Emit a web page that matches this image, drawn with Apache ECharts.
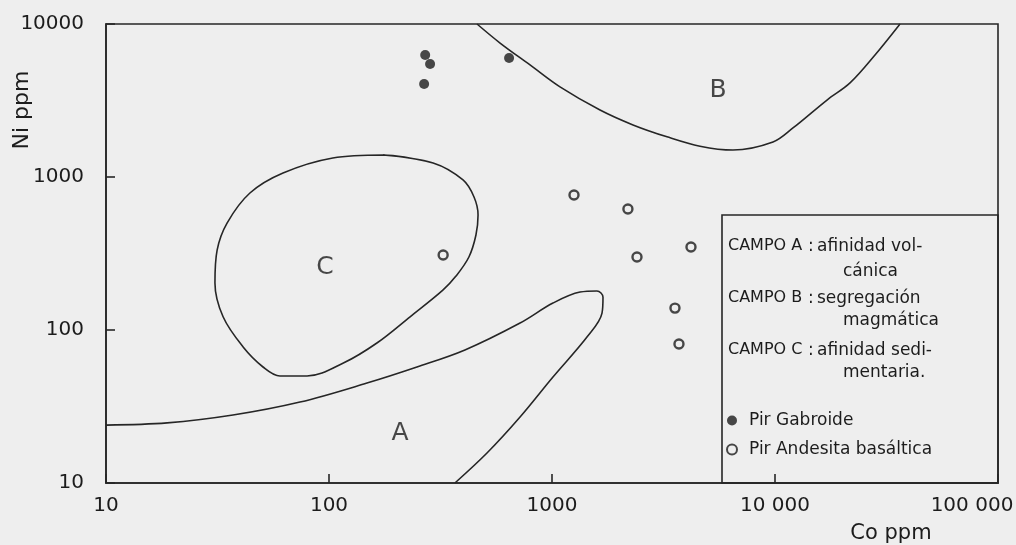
<!DOCTYPE html>
<html>
<head>
<meta charset="utf-8">
<script src="https://cdn.jsdelivr.net/npm/echarts@6/dist/echarts.min.js"></script>
<style>
html,body{margin:0;padding:0;background:#eeeeee;}
#chart{width:1016px;height:545px;}
</style>
</head>
<body>
<div id="chart"></div>
<script>
// ---- tick labels ----
const xTickValues = [10, 100, 1000, 10000, 100000];
const xTickLabels = ['10', '100', '1000', '10 000', '100 000'];
const yTickValues = [10, 100, 1000, 10000];
const yTickLabels = ['10', '100', '1000', '10000'];

// ---- sample points [Co ppm, Ni ppm] ----
const pirGabroide = [[270, 6270], [284, 5480], [267, 4050], [642, 6000]];
const pirAndesita = [[325, 309], [1255, 763], [2190, 618], [2405, 300], [4200, 349], [3560, 139], [3710, 81]];

// ---- field boundaries [Co ppm, Ni ppm] ----
const fieldA = [[10, 23.9], [18.8, 24.7], [37.1, 27.8], [74.1, 33.8], [148, 45], [248, 57.3], [407, 74],
  [719, 111], [1010, 150], [1336, 177], [1591, 180], [1693, 164], [1676, 129], [1435, 90],
  [1010, 49.3], [719, 27], [511, 15.7], [367, 10]];
const fieldB = [[461, 10000], [585, 7510], [797, 5400], [1086, 3880], [1642, 2740], [2308, 2190],
  [3279, 1830], [4609, 1590], [6480, 1500], [9795, 1693], [12036, 2091], [17110, 3186],
  [21700, 4120], [28080, 6270], [36360, 10000]];
const fieldC = [[175, 1392], [293, 1234], [399, 956], [447, 740], [466, 564], [456, 418], [424, 300],
  [371, 225], [324, 182], [231, 122], [164, 82.2], [116, 60.8], [79.7, 50], [60.3, 50], [50.6, 57.3],
  [41.2, 77.4], [33.5, 122], [30.8, 203], [31.5, 333], [34.9, 500], [44.2, 786], [62.2, 1062],
  [104, 1331], [175, 1392], [293, 1234]];

// ---- field labels ----
const fieldLabelNames = ['A', 'B', 'C'];
const fieldLabelAt = [[208, 21.2], [5550, 3700], [96, 258]];

// ---- legend texts ----
const fieldNames = ['CAMPO A', 'CAMPO B', 'CAMPO C'];
const fieldDesc = ['afinidad vol-', 'segregación', 'afinidad sedi-'];
const fieldDescCont = ['cánica', 'magmática', 'mentaria.'];
const seriesNames = ['Pir Gabroide', 'Pir Andesita basáltica'];
const axisNames = ['Co ppm', 'Ni ppm'];

const FONT = 'DejaVu Sans';
const INK = '#1c1c1c';
const LINE = '#262626';

function tickLabel(values, labels, v) {
  const e = Math.round(Math.log10(v));
  const i = values.findIndex(t => Math.round(Math.log10(t)) === e);
  return i >= 0 ? labels[i] : '';
}

const chart = echarts.init(document.getElementById('chart'), null, {renderer: 'canvas'});

const legendTexts = [];
const rowY = [[248, 273], [300, 322], [352, 374]];
for (let i = 0; i < 3; i++) {
  legendTexts.push({type: 'text', left: 728, top: rowY[i][0] - 10,
    style: {text: fieldNames[i], font: '16px ' + FONT, fill: INK}});
  legendTexts.push({type: 'text', left: 808, top: rowY[i][0] - 10,
    style: {text: ':', font: '17px ' + FONT, fill: INK}});
  legendTexts.push({type: 'text', left: 817, top: rowY[i][0] - 10,
    style: {text: fieldDesc[i], font: '17px ' + FONT, fill: INK}});
  legendTexts.push({type: 'text', left: 843, top: rowY[i][1] - 10,
    style: {text: fieldDescCont[i], font: '17px ' + FONT, fill: INK}});
}

const lineSeries = (name, data) => ({
  name: name, type: 'line', data: data, smooth: 0.35, symbol: 'none', silent: true,
  clip: true, lineStyle: {color: LINE, width: 1.6}, z: 2
});

const option = {
  backgroundColor: '#eeeeee',
  animation: false,
  grid: {left: 106, right: 18, top: 24, bottom: 62, show: true, borderColor: LINE, borderWidth: 1.6,
    containLabel: false, outerBoundsMode: 'none'},
  xAxis: {
    type: 'log', logBase: 10, min: 10, max: 100000,
    axisLine: {show: true, lineStyle: {color: LINE, width: 1.6}},
    axisTick: {show: true, inside: true, length: 9, lineStyle: {color: LINE, width: 1.6}},
    minorTick: {show: false}, splitLine: {show: false},
    axisLabel: {
      margin: 13, color: INK, fontSize: 20, fontFamily: FONT,
      formatter: v => {
        const s = tickLabel(xTickValues, xTickLabels, v);
        return Math.round(Math.log10(v)) === 5 ? '{r|' + s + '}' : s;
      },
      rich: {r: {fontSize: 20, fontFamily: FONT, color: INK, padding: [0, 52, 0, 0]}}
    }
  },
  yAxis: {
    type: 'log', logBase: 10, min: 10, max: 10000,
    axisLine: {show: true, lineStyle: {color: LINE, width: 1.6}},
    axisTick: {show: true, inside: true, length: 9, lineStyle: {color: LINE, width: 1.6}},
    minorTick: {show: false}, splitLine: {show: false},
    axisLabel: {
      margin: 22, color: INK, fontSize: 20, fontFamily: FONT,
      formatter: v => tickLabel(yTickValues, yTickLabels, v)
    }
  },
  legend: {
    data: seriesNames, orient: 'vertical', left: 726, top: 412, padding: 0,
    itemWidth: 10, itemHeight: 10, itemGap: 12, selectedMode: false,
    textStyle: {fontSize: 17, fontFamily: FONT, color: INK, padding: [0, 0, 0, 7]}
  },
  graphic: [
    {type: 'rect', shape: {x: 722, y: 215, width: 276, height: 268},
      style: {fill: 'none', stroke: LINE, lineWidth: 1.6}, z: 5},
    ...legendTexts,
    {type: 'text', x: 22, y: 110, rotation: Math.PI / 2,
      style: {text: axisNames[1], font: '22px ' + FONT, fill: INK, align: 'center', verticalAlign: 'middle'}},
    {type: 'text', x: 891, y: 534,
      style: {text: axisNames[0], font: '21px ' + FONT, fill: INK, align: 'center', verticalAlign: 'middle'}}
  ],
  series: [
    lineSeries('fieldA', fieldA),
    lineSeries('fieldB', fieldB),
    lineSeries('fieldC', fieldC),
    {
      name: 'labels', type: 'scatter', symbolSize: 0, silent: true,
      data: fieldLabelNames.map((n, i) => ({name: n, value: fieldLabelAt[i]})),
      label: {show: true, position: 'inside', formatter: '{b}', fontSize: 25, fontFamily: FONT, color: INK}
    },
    {
      name: seriesNames[0], type: 'scatter', data: pirGabroide, symbol: 'circle', symbolSize: 10,
      itemStyle: {color: '#1c1c1c'}, z: 4
    },
    {
      name: seriesNames[1], type: 'scatter', data: pirAndesita, symbol: 'circle', symbolSize: 9,
      itemStyle: {color: '#eeeeee', borderColor: '#1c1c1c', borderWidth: 2.4}, z: 4
    }
  ]
};
chart.setOption(option);
</script>
</body>
</html>
